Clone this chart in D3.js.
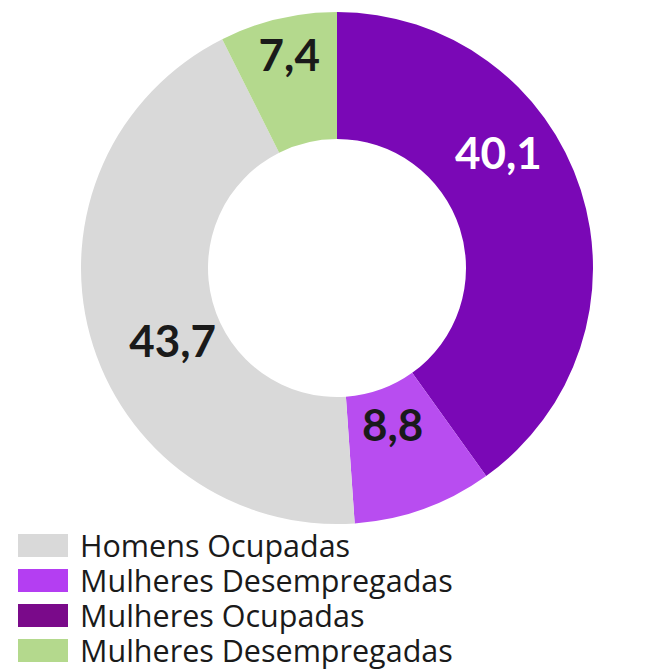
<!DOCTYPE html>
<html>
<head>
<meta charset="utf-8">
<script src="https://cdn.jsdelivr.net/npm/d3@7"></script>
<style>
  body { margin: 0; background: #fff; }
</style>
</head>
<body>
<div id="chart"></div>
<script>

// slices, clockwise from 12 o'clock
var sliceNames = ["Mulheres Ocupadas", "Mulheres Desempregadas", "Homens Ocupadas", "Mulheres Desempregadas"]
var sliceValues = [40.1, 8.8, 43.7, 7.4]
var sliceLabels = ["40,1", "8,8", "43,7", "7,4"]
var sliceColors = ["#7a08b6", "#b84df0", "#d9d9d9", "#b4d98d"]

// legend order as in the picture
var legendNames = ["Homens Ocupadas", "Mulheres Desempregadas", "Mulheres Ocupadas", "Mulheres Desempregadas"]
var legendColors = ["#d9d9d9", "#b43ef2", "#7a0a8a", "#b4d98d"]

var width = 656
var height = 669
var cx = 337
var cy = 268
var outerR = 256
var innerR = 129

// label nudges (px) away from the centroid, like the original
var labelOffsets = [[-29, -54], [-4, -8], [17, 24], [2, -3]]
var labelColors = ["#ffffff", "#1a1a1a", "#1a1a1a", "#1a1a1a"]
var labelR = [200, 176, 188, 216]

var svg = d3.select("#chart").append("svg")
  .attr("width", width)
  .attr("height", height)

var g = svg.append("g")
  .attr("transform", `translate(${cx}, ${cy})`)

var pie = d3.pie()
  .sort(null)
  .value(d => d)

var arcs = pie(sliceValues)

var arc = d3.arc()
  .innerRadius(innerR)
  .outerRadius(outerR)

g.selectAll(".slice")
  .data(arcs)
  .enter().append("path")
  .attr("class", "slice")
  .attr("d", arc)
  .attr("fill", (d, i) => sliceColors[i])

var labelPos = (d, i) => d3.arc().innerRadius(labelR[i]).outerRadius(labelR[i]).centroid(d)

g.selectAll(".label")
  .data(arcs)
  .enter().append("text")
  .attr("class", "label")
  .attr("x", (d, i) => labelPos(d, i)[0] + labelOffsets[i][0])
  .attr("y", (d, i) => labelPos(d, i)[1] + labelOffsets[i][1])
  .attr("text-anchor", "middle")
  .attr("dy", "0.36em")
  .attr("font-family", "Lato")
  .attr("font-weight", "bold")
  .style("font-size", "44px")
  .attr("fill", (d, i) => labelColors[i])
  .text((d, i) => sliceLabels[i])

var legend = svg.append("g")
  .attr("transform", "translate(18, 534)")

var rows = legend.selectAll(".row")
  .data(legendNames)
  .enter().append("g")
  .attr("class", "row")
  .attr("transform", (d, i) => `translate(0, ${i * 35})`)

rows.append("rect")
  .attr("width", 50)
  .attr("height", 23)
  .attr("fill", (d, i) => legendColors[i])

rows.append("text")
  .attr("x", 62)
  .attr("y", 23)
  .attr("font-family", "Open Sans")
  .style("font-size", "30.5px")
  .attr("fill", "#1a1a1a")
  .text(d => d)

</script>
</body>
</html>
